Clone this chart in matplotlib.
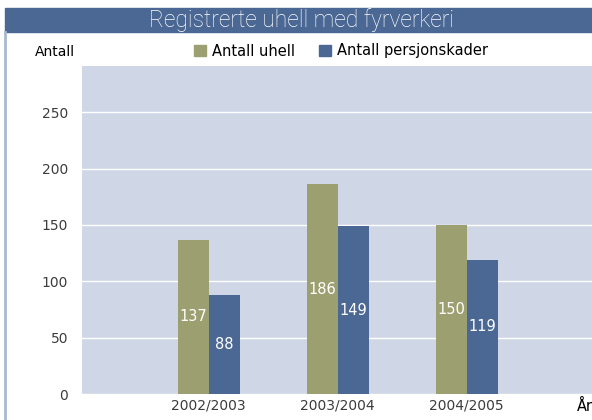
import numpy as np
import matplotlib
matplotlib.use("Agg")
import matplotlib.pyplot as plt
from matplotlib.patches import Rectangle, Patch
from matplotlib.lines import Line2D

# data
seasons = ["2002/2003", "2003/2004", "2004/2005"]
uhell = [137, 186, 150]
skader = [88, 149, 119]
yticks = [0, 50, 100, 150, 200, 250]

green = "#9ca070"
blue = "#4b6895"
bg = "#cfd7e6"
txt = "#3c3c3c"

plt.rcParams['font.family'] = ['DejaVu Sans']

fig = plt.figure(figsize=(5.92, 4.2), dpi=100)

# title bar
fig.patches.append(Rectangle((5/592, 1-32/420), 1-5/592, 24/420,
                             transform=fig.transFigure, color=blue, zorder=0))
fig.text(302/592, 1-20/420, "Registrerte uhell med fyrverkeri", color="white",
         ha="center", va="center", fontsize=16.5, family="Roboto", fontweight="light",
         zorder=5)
fig.lines.append(Line2D([5/592, 5/592], [0, 1-32/420], transform=fig.transFigure,
                        color="#a9b9d1", lw=2))

ax = fig.add_axes([82/592, 26/420, 1-82/592, (394-66)/420])
ax.set_facecolor(bg)
x = np.arange(len(seasons))
w = 0.24
b1 = ax.bar(x - w/2, uhell, w, color=green, zorder=3)
b2 = ax.bar(x + w/2, skader, w, color=blue, zorder=3)
for bars, vals in ((b1, uhell), (b2, skader)):
    for r, v in zip(bars, vals):
        ax.text(r.get_x() + r.get_width()/2, v/2, str(v), ha="center", va="center",
                color="white", fontsize=10.5, zorder=4)

ax.set_xlim(-0.98, 2.97)
ax.set_ylim(0, 291)
ax.set_yticks(yticks)
ax.set_xticks(x)
ax.set_xticklabels(seasons)
ax.yaxis.grid(True, color="white", lw=1)
ax.set_axisbelow(True)
for s in ax.spines.values():
    s.set_visible(False)
ax.tick_params(length=0, colors=txt, labelsize=10)
ax.tick_params(axis="y", pad=10)
ax.tick_params(axis="x", pad=3)

fig.text(35/592, 1-52/420, "Antall", fontsize=10, color="black", va="center")
fig.text(577/592, 1-406/420, "År", fontsize=10.5, color="black", va="center")

handles = [Patch(color=green, label="Antall uhell"),
           Patch(color=blue, label="Antall persjonskader")]
fig.legend(handles=handles, ncol=2, loc="center", bbox_to_anchor=(341/592, 1-51/420),
           frameon=False, handlelength=0.8, handleheight=0.8, handletextpad=0.4,
           columnspacing=1.7, fontsize=10.5)

fig.savefig("out.png", dpi=100)
